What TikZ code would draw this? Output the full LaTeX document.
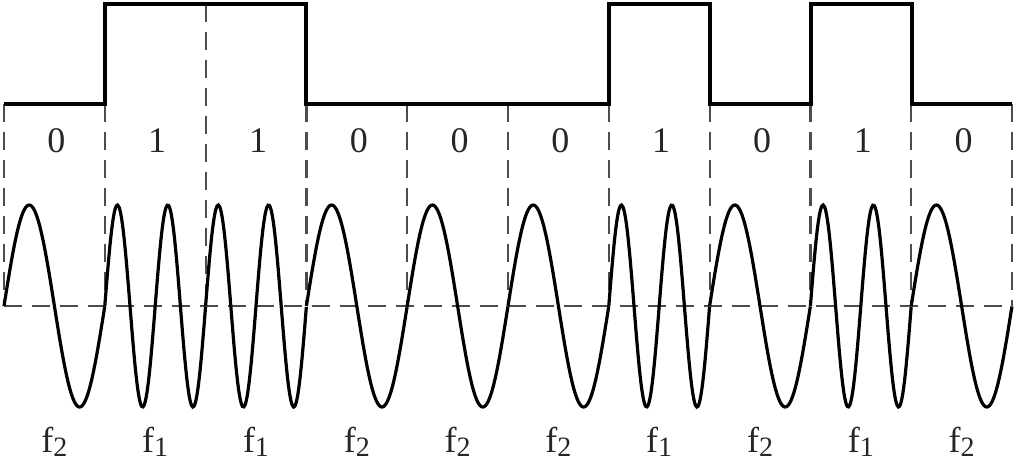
\documentclass[tikz,border=0pt]{standalone}
\usepackage{fontspec}
\setmainfont{Liberation Serif}
\begin{document}
\begin{tikzpicture}[x=0.5pt,y=-0.5pt,
  sig/.style={line width=1.6pt, line join=miter},
  guide/.style={line width=1.1pt, dash pattern=on 9pt off 5pt, black!70},
  lbl/.style={font=\fontsize{18}{18}\selectfont, inner sep=0pt, text=black!85},
  ]
\useasboundingbox (0,0) rectangle (1016,468);
% dashed guides
\draw[guide] (4,306) -- (1012,306);
\foreach \i/\top in {0/104,1/104,2/4,3/104,4/104,5/104,6/104,7/104,8/104,9/104,10/104}{
  \draw[guide] ({4+100.8*\i},\top) -- ({4+100.8*\i},306);
}
% square wave (bits 0110001010)
\draw[sig] (4,104) -- (105,104) -- (105,4) -- (306,4) -- (306,104) -- (609,104) -- (609,4) -- (710,4) -- (710,104) -- (811,104) -- (811,4) -- (912,4) -- (912,104) -- (1012,104);
% FSK signal
\foreach \c [count=\i from 0] in {1,2,2,1,1,1,2,1,2,1}{
  \draw[sig] plot[domain=0:1, samples=80, smooth] ({4+100.8*(\i+\x)}, {306-101*sin(360*\c*\x)});
}
% labels
\foreach \b/\f [count=\i from 0] in {0/2,1/1,1/1,0/2,0/2,0/2,1/1,0/2,1/1,0/2}{
  \node[lbl] (bit\i) at ({4+100.8*(\i+0.5)+2},141) {\b};
  \node[lbl] (freq\i) at ({4+100.8*(\i+0.5)},442) {f\raisebox{-2pt}{\fontsize{14}{14}\selectfont\f}};
}
\end{tikzpicture}
\end{document}
